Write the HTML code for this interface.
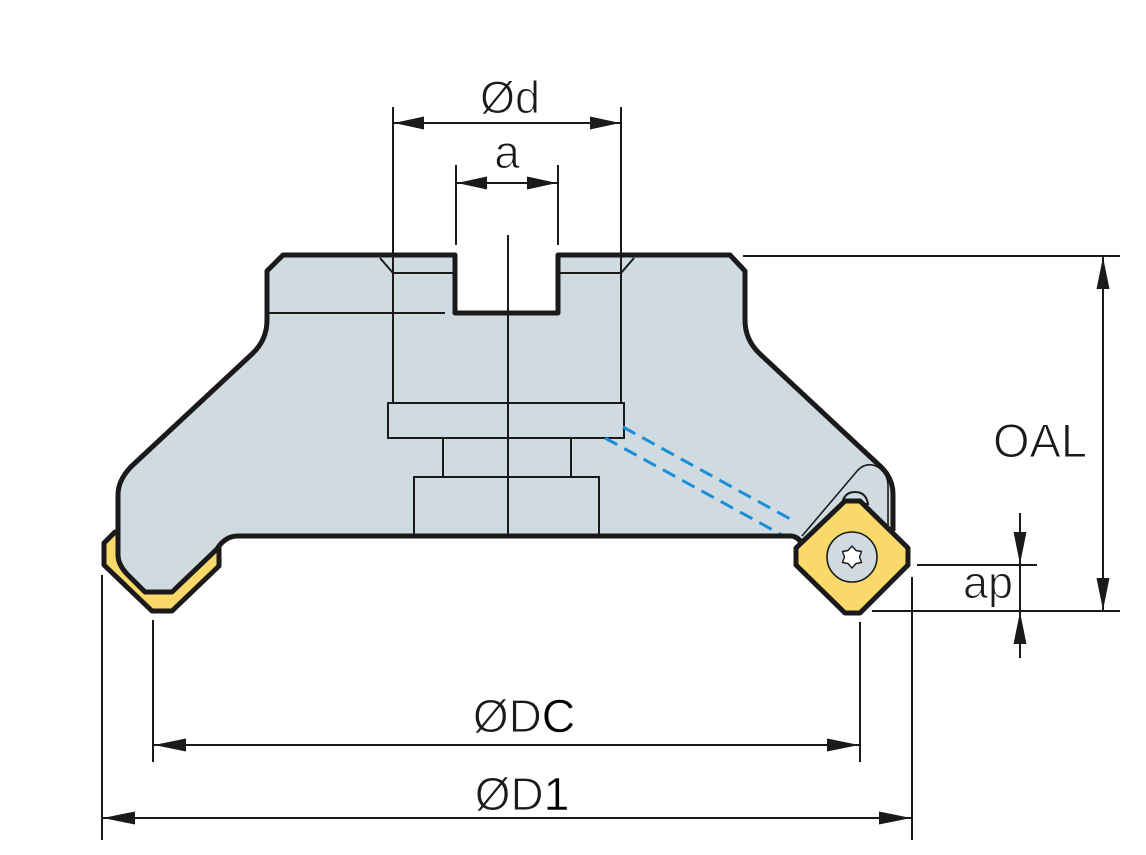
<!DOCTYPE html>
<html>
<head>
<meta charset="utf-8">
<style>
html,body{margin:0;padding:0;background:#fff;}
svg{display:block;}
text{font-family:"Liberation Sans",sans-serif;fill:#1a1a1a;stroke:#fff;stroke-width:1.1px;}
</style>
</head>
<body>
<svg width="1146" height="855" viewBox="0 0 1146 855" xmlns="http://www.w3.org/2000/svg">
<rect width="1146" height="855" fill="#fff"/>

<!-- left insert (behind body) -->
<polygon points="115,532 104,543 104,565 152,611 172,611 219,566 219,540" fill="#fbd86a" stroke="#1a1a1a" stroke-width="5" stroke-linejoin="round"/>

<!-- body fill -->
<path d="M283,255 L455,255 L455,313 L558,313 L558,255 L730,255 L745,271 L745,320 Q745,340 760,354 L880,466 Q893,478 893,494 L893,540 L800,545 L790,536 L238,536 Q225,537 217,549 L172,592 L145,592 L128,575 Q118,565 118,555 L118,495 Q118,478 135,463 L252,354 Q267,340 267,320 L267,271 Z" fill="#d0dae1" stroke="none"/>

<!-- interior lines -->
<g stroke="#1a1a1a" stroke-width="2" fill="none">
  <line x1="508" y1="235" x2="508" y2="536"/>
  <line x1="393" y1="107" x2="393" y2="403"/>
  <line x1="621" y1="107" x2="621" y2="403"/>
  <line x1="380" y1="258" x2="393" y2="273"/>
  <line x1="393" y1="273" x2="455" y2="273"/>
  <line x1="634" y1="258" x2="621" y2="273"/>
  <line x1="558" y1="273" x2="621" y2="273"/>
  <line x1="268" y1="313" x2="445" y2="313"/>
  <rect x="388" y="403" width="236" height="35"/>
  <line x1="443" y1="438" x2="443" y2="477"/>
  <line x1="571" y1="438" x2="571" y2="477"/>
  <rect x="414" y="477" width="185" height="59"/>
  <!-- pocket -->
  <path d="M802,536 L858,470 Q866,462 876,466 Q888,472 888,486 L888,527" stroke-width="1.6"/>
</g>

<!-- coolant dashed -->
<g stroke="#1a8fd8" stroke-width="3" stroke-dasharray="14 8" fill="none">
  <line x1="623" y1="427" x2="792" y2="520"/>
  <line x1="605" y1="438" x2="782" y2="535"/>
</g>

<!-- body outline -->
<path d="M893,531 L893,494 Q893,478 880,466 L760,354 Q745,340 745,320 L745,271 L730,255 L558,255 L558,313 L455,313 L455,255 L283,255 L267,271 L267,320 Q267,340 252,354 L135,463 Q118,478 118,495 L118,555 Q118,565 128,575 L145,592 L172,592 L217,549 Q225,536 238,536 L790,536 Q797,536 801,542" fill="none" stroke="#1a1a1a" stroke-width="5" stroke-linejoin="round"/>

<!-- clamp bump -->
<path d="M842,504 Q844,492 855,492 Q866,492 868,504 Z" fill="#d0dae1" stroke="#1a1a1a" stroke-width="2"/>

<!-- right insert -->
<polygon points="845,501 860,501 908,548 908,565 860,613 845,613 796,565 796,548" fill="#fbd86a" stroke="#1a1a1a" stroke-width="5" stroke-linejoin="round"/>
<circle cx="852" cy="557" r="25" fill="#d0dae1" stroke="#1a1a1a" stroke-width="1.6"/>
<polygon points="852,546 856,550.5 861.5,551.5 859.5,557 861.5,562.5 856,563.5 852,568 848,563.5 842.5,562.5 844.5,557 842.5,551.5 848,550.5" fill="#fff" stroke="#1a1a1a" stroke-width="1.4" stroke-linejoin="round"/>

<!-- dimension lines -->
<g stroke="#1a1a1a" stroke-width="2" fill="none">
  <line x1="456" y1="165" x2="456" y2="245"/>
  <line x1="558" y1="165" x2="558" y2="245"/>
  <line x1="456" y1="183" x2="558" y2="183"/>
  <line x1="393" y1="123" x2="621" y2="123"/>
  <line x1="743" y1="256" x2="1120" y2="256"/>
  <line x1="872" y1="611" x2="1120" y2="611"/>
  <line x1="1103" y1="256" x2="1103" y2="611"/>
  <line x1="917" y1="565" x2="1037" y2="565"/>
  <line x1="1020" y1="513" x2="1020" y2="658"/>
  <line x1="153" y1="620" x2="153" y2="762"/>
  <line x1="860" y1="622" x2="860" y2="762"/>
  <line x1="153" y1="745" x2="860" y2="745"/>
  <line x1="102" y1="575" x2="102" y2="840"/>
  <line x1="912" y1="577" x2="912" y2="840"/>
  <line x1="102" y1="818" x2="912" y2="818"/>
</g>

<!-- arrowheads -->
<g fill="#1a1a1a">
  <polygon points="394,123 424,116.5 424,129.5"/>
  <polygon points="620,123 590,116.5 590,129.5"/>
  <polygon points="457,183 487,176.5 487,189.5"/>
  <polygon points="557,183 527,176.5 527,189.5"/>
  <polygon points="1103,257 1096.5,289 1109.5,289"/>
  <polygon points="1103,610 1096.5,578 1109.5,578"/>
  <polygon points="1020,564 1013.5,532 1026.5,532"/>
  <polygon points="1020,612 1013.5,644 1026.5,644"/>
  <polygon points="154,745 186,738.5 186,751.5"/>
  <polygon points="859,745 827,738.5 827,751.5"/>
  <polygon points="103,818 135,811.5 135,824.5"/>
  <polygon points="911,818 879,811.5 879,824.5"/>
</g>

<!-- labels -->
<text x="510" y="113" font-size="45" text-anchor="middle">Ød</text>
<text x="507" y="168" font-size="46" text-anchor="middle">a</text>
<text x="993" y="457" font-size="47">OAL</text>
<text x="963" y="598" font-size="45">ap</text>
<text x="524" y="732" font-size="46" text-anchor="middle">ØD<tspan fill="#000" style="stroke-width:0.5px">C</tspan></text>
<text x="522" y="810" font-size="46" text-anchor="middle">ØD<tspan fill="#000" style="stroke-width:0.5px">1</tspan></text>
</svg>
</body>
</html>
